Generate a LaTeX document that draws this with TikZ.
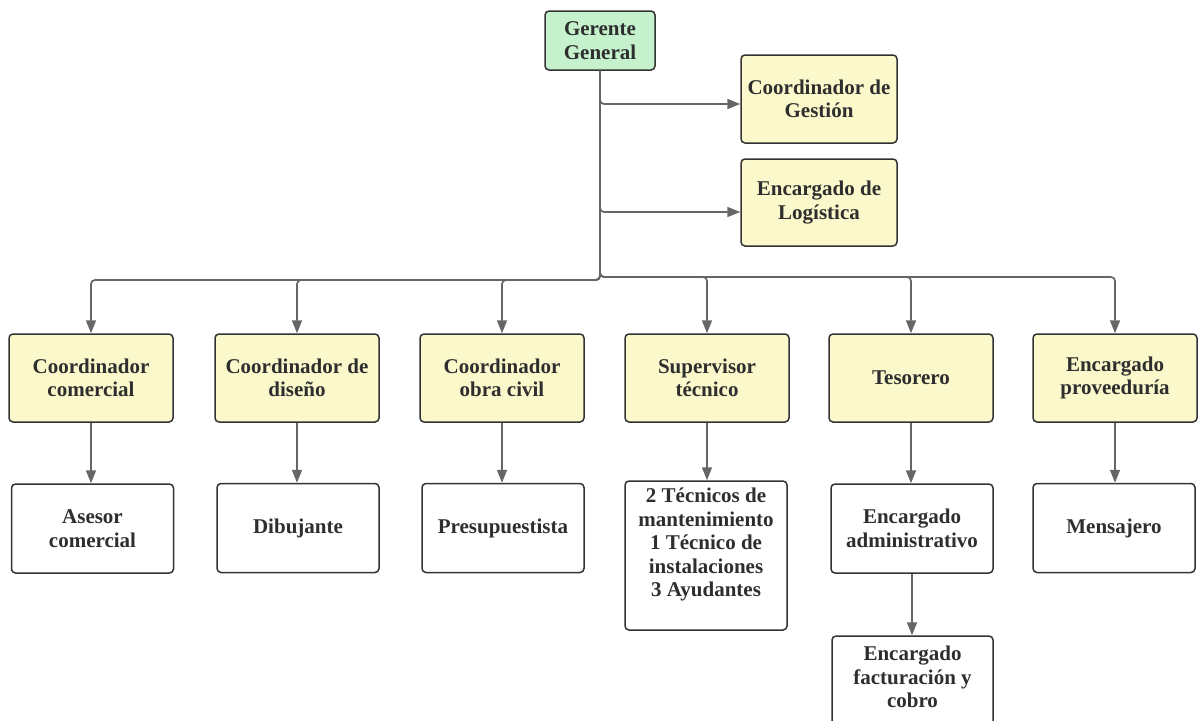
\documentclass[tikz,border=0pt]{standalone}
\usepackage{fontspec}
\setmainfont{Liberation Serif}
\usetikzlibrary{arrows.meta}
\definecolor{boxyellow}{HTML}{FBF9CB}
\definecolor{boxgreen}{HTML}{C5F2CC}
\definecolor{linegray}{HTML}{666666}
\definecolor{edgegray}{HTML}{333333}
\definecolor{textgray}{HTML}{2E2E2E}

\begin{document}
\begin{tikzpicture}[x=1pt,y=-1pt,
  label text/.style={align=center, font=\bfseries\fontsize{21}{23.5}\selectfont, text=textgray, inner sep=0pt},
  box/.style={label text, draw=edgegray, line width=1.5pt, rounded corners=4pt},
  gbox/.style={box, fill=boxgreen, minimum width=110pt, minimum height=59pt},
  ybox/.style={box, fill=boxyellow, minimum width=164pt, minimum height=88pt},
  wbox/.style={box, fill=white, minimum width=162pt, minimum height=89pt},
  conn/.style={draw=linegray, line width=1.7pt, rounded corners=4pt,
               -{Triangle[length=13pt,width=10pt]}},
]
\useasboundingbox (0,0) rectangle (1198,720);
\clip (0,0) rectangle (1198,720);

% top level
\node[gbox] (gg) at (600,40.5) {Gerente\\General};
\node[ybox, minimum width=156pt] (gest) at (819,99) {Coordinador de\\Gestión};
\node[ybox, minimum width=156pt, minimum height=87pt] (logi) at (819,202.5) {Encargado de\\Logística};

% first row of departments
\node[ybox] (c1) at (91,378)   {Coordinador\\comercial};
\node[ybox] (c2) at (297,378)  {Coordinador de\\diseño};
\node[ybox] (c3) at (502,378)  {Coordinador\\obra civil};
\node[ybox] (c4) at (707,378)  {Supervisor\\técnico};
\node[ybox] (c5) at (911,378)  {Tesorero};
\node[ybox] (c6) at (1115,378) {Encargado\\proveeduría};

% second row
\node[wbox] (asesor) at (92.5,528.5) {Asesor\\comercial};
\node[wbox] (dib)    at (298,528)    {Dibujante};
\node[wbox] (pres)   at (503,528)    {Presupuestista};
\node[wbox, minimum height=149pt] (tec) at (706,555.5) {};
\node[label text] (tecl) at (706,544.5)
  {2 Técnicos de\\mantenimiento\\1 Técnico de\\instalaciones\\3 Ayudantes};
\node[wbox] (admin)  at (912,528.5)  {Encargado\\administrativo};
\node[wbox]  (mens)  at (1114,528)   {Mensajero};
\node[wbox, minimum width=161pt, minimum height=110pt] (fact) at (912.5,691) {};
\node[label text] (factl) at (912.5,677) {Encargado\\facturación y\\cobro};

% connectors from the general manager
\draw[conn] (gg.south) |- ([yshift=-5pt]gest.west);
\draw[conn] (gg.south) |- ([yshift=-9.5pt]logi.west);
\draw[conn] (gg.south) -- (600,280) -| (c1.north);
\draw[conn] (gg.south) -- (600,280) -| (c2.north);
\draw[conn] (gg.south) -- (600,280) -| (c3.north);
\draw[conn] (gg.south) -- (600,277) -| (c4.north);
\draw[conn] (gg.south) -- (600,277) -| (c5.north);
\draw[conn] (gg.south) -- (600,277) -| (c6.north);

% department to staff
\draw[conn] (c1.south) -- (c1.south |- asesor.north);
\draw[conn] (c2.south) -- (c2.south |- dib.north);
\draw[conn] (c3.south) -- (c3.south |- pres.north);
\draw[conn] (c4.south) -- (c4.south |- tec.north);
\draw[conn] (c5.south) -- (c5.south |- admin.north);
\draw[conn] (c6.south) -- (c6.south |- mens.north);
\draw[conn] (admin.south) -- (admin.south |- fact.north);
\end{tikzpicture}
\end{document}
